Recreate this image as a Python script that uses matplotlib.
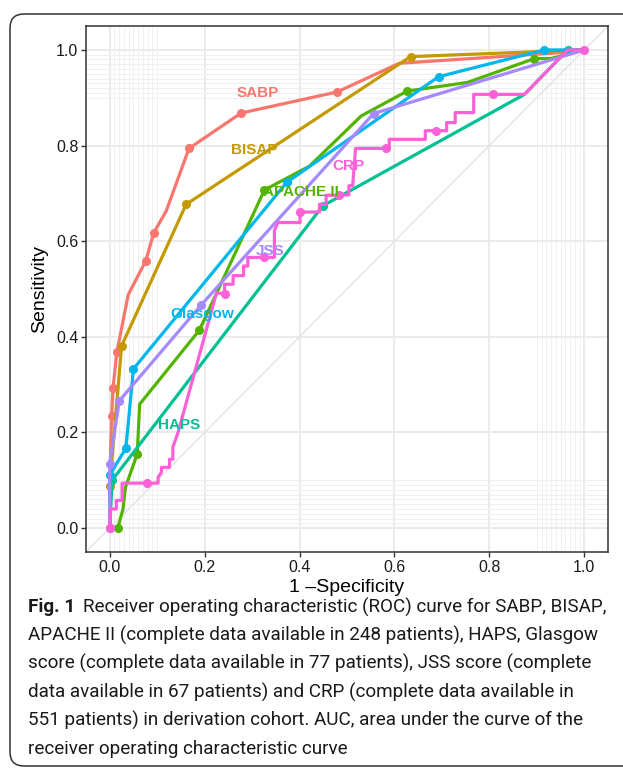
import matplotlib.pyplot as plt
from matplotlib.patches import FancyBboxPatch

plt.rcParams['font.family'] = ["Liberation Sans", "DejaVu Sans"]

# ROC curves: (1 - specificity, sensitivity)
sabp = [(0, 0), (0.001, 0.13), (0.004, 0.235), (0.007, 0.294), (0.015, 0.368), (0.039, 0.488),
        (0.076, 0.559), (0.093, 0.618), (0.119, 0.663), (0.167, 0.794), (0.277, 0.868),
        (0.479, 0.912), (0.61, 0.972), (0.96, 0.995), (1.0, 1.0)]
sabp_dots = [2, 3, 4, 6, 7, 9, 10, 11]

bisap = [(0, 0), (0, 0.088), (0.025, 0.381), (0.161, 0.677), (0.634, 0.986), (0.92, 0.997), (1.0, 1.0)]
bisap_dots = [1, 2, 3, 4]

apache = [(0, 0), (0.017, 0.0), (0.028, 0.04), (0.033, 0.085), (0.058, 0.155), (0.063, 0.259),
          (0.189, 0.414), (0.326, 0.707), (0.421, 0.757), (0.53, 0.862), (0.627, 0.914),
          (0.754, 0.932), (0.895, 0.982), (0.93, 0.982), (1.0, 1.0)]
apache_dots = [1, 4, 6, 7, 10, 12]

haps = [(0, 0), (0.005, 0.1), (0.449, 0.674), (0.874, 0.907), (0.965, 1.0), (1.0, 1.0)]
haps_dots = [1, 2, 4]

glasgow = [(0, 0), (0, 0.111), (0.034, 0.167), (0.05, 0.333), (0.373, 0.723), (0.693, 0.944),
           (0.916, 1.0), (0.965, 1.0), (1.0, 1.0)]
glasgow_dots = [1, 2, 3, 4, 5, 6]

jss = [(0, 0), (0, 0.134), (0.02, 0.266), (0.193, 0.467), (0.556, 0.867), (1.0, 1.0)]
jss_dots = [0, 1, 2, 3, 4]

crp = [(0, 0), (0.0014, 0.04), (0.014, 0.04), (0.014, 0.058), (0.026, 0.058), (0.026, 0.094),
       (0.079, 0.094), (0.102, 0.094), (0.102, 0.106), (0.109, 0.117), (0.109, 0.127),
       (0.126, 0.127), (0.126, 0.144), (0.133, 0.144), (0.133, 0.169), (0.144, 0.2),
       (0.225, 0.492), (0.242, 0.49), (0.242, 0.51), (0.26, 0.51), (0.26, 0.528),
       (0.282, 0.528), (0.282, 0.548), (0.291, 0.548), (0.291, 0.566), (0.326, 0.566),
       (0.347, 0.566), (0.347, 0.622), (0.354, 0.639), (0.401, 0.639), (0.401, 0.661),
       (0.442, 0.661), (0.442, 0.677), (0.456, 0.677), (0.456, 0.696), (0.484, 0.696),
       (0.504, 0.697), (0.504, 0.716), (0.512, 0.716), (0.518, 0.794), (0.582, 0.794),
       (0.589, 0.794), (0.589, 0.813), (0.665, 0.813), (0.665, 0.831), (0.688, 0.831),
       (0.71, 0.831), (0.71, 0.848), (0.728, 0.848), (0.728, 0.869), (0.767, 0.869),
       (0.767, 0.907), (0.807, 0.907), (0.874, 0.907), (0.965, 1.0), (1.0, 1.0)]
crp_dots = [0, 6, 17, 25, 30, 35, 40, 45, 52, 55]

series = [
    ("SABP", sabp, sabp_dots, "#F8766D", (0.312, 0.909)),
    ("BISAP", bisap, bisap_dots, "#C49A00", (0.305, 0.791)),
    ("APACHE II", apache, apache_dots, "#53B400", (0.403, 0.702)),
    ("HAPS", haps, haps_dots, "#00C094", (0.147, 0.216)),
    ("Glasgow", glasgow, glasgow_dots, "#00B6EB", (0.196, 0.447)),
    ("JSS", jss, jss_dots, "#A58AFF", (0.337, 0.58)),
    ("CRP", crp, crp_dots, "#FB61D7", (0.503, 0.757)),
]

major = [0.0, 0.2, 0.4, 0.6, 0.8, 1.0]
minor = [i / 100 for i in range(0, 11)] + [i / 100 for i in range(90, 101)]

caption = [
    "Receiver operating characteristic (ROC) curve for SABP, BISAP,",
    "APACHE II (complete data available in 248 patients), HAPS, Glasgow",
    "score (complete data available in 77 patients), JSS score (complete",
    "data available in 67 patients) and CRP (complete data available in",
    "551 patients) in derivation cohort. AUC, area under the curve of the",
    "receiver operating characteristic curve",
]

W, H = 623, 772
fig = plt.figure(figsize=(W / 100, H / 100), dpi=100)
ax = fig.add_axes([86 / W, 1 - 552 / H, (608 - 86) / W, (552 - 26) / H])

ax.set_xlim(-0.05, 1.05)
ax.set_ylim(-0.05, 1.05)
ax.set_xticks(major)
ax.set_yticks(major)
ax.set_xticks(minor, minor=True)
ax.set_yticks(minor, minor=True)
ax.grid(which="major", color="#ebebeb", lw=1.4, zorder=0)
ax.grid(which="minor", color="#f0f0f0", lw=0.7, zorder=0)
ax.set_axisbelow(True)
ax.tick_params(which="minor", length=0)
ax.tick_params(which="major", length=3.5, width=1, color="#333333",
               labelsize=11.5, labelcolor="#1a1a1a", pad=2)
for s in ax.spines.values():
    s.set_color("#333333")
    s.set_linewidth(1.1)

ax.axline((0, 0), (1, 1), color="#e3e3e3", lw=1, zorder=1)

for name, pts, dots, col, lab in series:
    xs = [p[0] for p in pts]
    ys = [p[1] for p in pts]
    ax.plot(xs, ys, color=col, lw=2.3, marker="o", ms=5.5, markevery=dots, zorder=3,
            solid_joinstyle="round")
for name, pts, dots, col, lab in series:
    ax.text(lab[0], lab[1], name, color=col, fontsize=11, fontweight="bold",
            ha="center", va="center", zorder=4)

ax.set_xlabel("1 \u2013Specificity", fontsize=14, labelpad=3)
ax.set_ylabel("Sensitivity", fontsize=14, labelpad=6)

# outer rounded frame (runs off the right edge like the reference)
frame = FancyBboxPatch((10 / 100, 6 / 100), 6.5, (758 - 6) / 100,
                       boxstyle="round,pad=0,rounding_size=0.14",
                       transform=fig.dpi_scale_trans, fill=False,
                       ec="#333333", lw=1.1)
fig.patches.append(frame)

# caption: shrink the font until the widest line fits between x=28 and x=610
cap_font = ["Roboto", "DejaVu Sans"]
cap_size = 14.0
y0 = 1 - 607 / H
dy = 28.4 / H
renderer = fig.canvas.get_renderer()
fig_t = fig.text(28 / W, y0, "Fig. 1", fontsize=cap_size, fontweight="bold",
                 family=cap_font, va="center", color="#1a1a1a")
lines = []
for i, line in enumerate(caption):
    lines.append(fig.text(28 / W, y0 - i * dy, line, fontsize=cap_size, family=cap_font,
                          va="center", color="#1a1a1a"))
for _ in range(3):
    gap = 8 * cap_size / 14
    head = fig_t.get_window_extent(renderer).width + gap
    widths = [t.get_window_extent(renderer).width + (head if i == 0 else 0)
              for i, t in enumerate(lines)]
    cap_size = cap_size * (610 - 28) / max(widths)
    fig_t.set_fontsize(cap_size)
    for t in lines:
        t.set_fontsize(cap_size)
head = fig_t.get_window_extent(renderer).x1 + 8 * cap_size / 14
lines[0].set_x(head / W)

fig.savefig("out.png", dpi=100)
